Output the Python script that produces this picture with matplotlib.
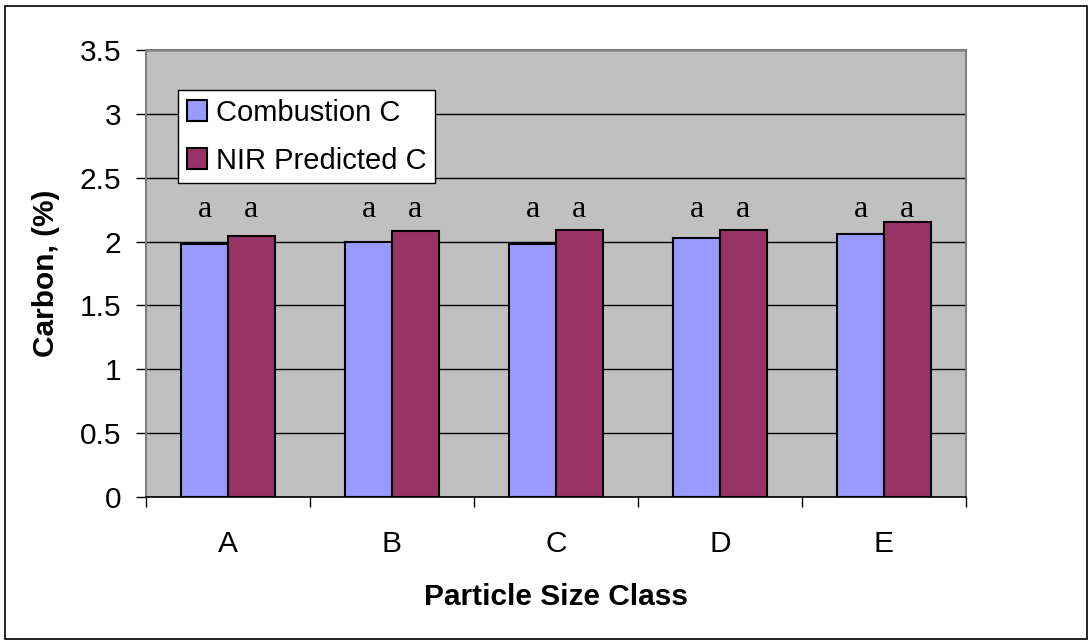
import matplotlib
matplotlib.use("Agg")
import matplotlib.pyplot as plt
from matplotlib.patches import Rectangle
import numpy as np

# ── Data ──
categories = ["A", "B", "C", "D", "E"]
combustion_c = [1.98, 2.00, 1.98, 2.03, 2.06]
nir_predicted_c = [2.04, 2.08, 2.09, 2.09, 2.15]
letters_comb = ["a", "a", "a", "a", "a"]
letters_nir = ["a", "a", "a", "a", "a"]
letter_y = 2.19
y_ticks = [0, 0.5, 1, 1.5, 2, 2.5, 3, 3.5]

plt.rcParams["font.family"] = ["Liberation Sans", "DejaVu Sans"]
FS = 21.5

fig = plt.figure(figsize=(10.89, 6.41), dpi=100)
fig.patches.append(Rectangle((5 / 1089, 2 / 641), 1082 / 1089, 633 / 641,
                             transform=fig.transFigure, fill=False,
                             edgecolor="black", linewidth=1.2))

ax = fig.add_axes([146 / 1089, 144 / 641, 820 / 1089, 447 / 641])
ax.set_facecolor("#C0C0C0")

x = np.arange(len(categories))
w = 1 / 3.5
ax.bar(x - w / 2, combustion_c, w, color="#9999FF", edgecolor="black",
       linewidth=1.5, label="Combustion C", zorder=3)
ax.bar(x + w / 2, nir_predicted_c, w, color="#993366", edgecolor="black",
       linewidth=1.5, label="NIR Predicted C", zorder=3)

for i in range(len(categories)):
    ax.text(x[i] - w / 2, letter_y, letters_comb[i], ha="center", va="baseline",
            fontsize=23, family=["Liberation Serif", "DejaVu Serif"], zorder=4)
    ax.text(x[i] + w / 2, letter_y, letters_nir[i], ha="center", va="baseline",
            fontsize=23, family=["Liberation Serif", "DejaVu Serif"], zorder=4)

ax.set_xlim(-0.5, len(categories) - 0.5)
ax.set_ylim(0, 3.5)
ax.set_yticks(y_ticks)
ax.set_yticklabels([f"{v:g}" for v in y_ticks], fontsize=FS)
ax.grid(True, axis="y", color="black", linewidth=1, zorder=1)

# category borders as major ticks, labels at centres as minor ticks
ax.set_xticks(np.arange(-0.5, len(categories), 1.0))
ax.set_xticklabels([])
ax.set_xticks(x, minor=True)
ax.set_xticklabels(categories, minor=True, fontsize=FS)
ax.tick_params(axis="x", which="major", length=7, width=1, color="black")
ax.tick_params(axis="x", which="minor", length=0, pad=24)
ax.tick_params(axis="y", length=7, width=1, color="black", pad=11)

for side in ["left", "right", "top"]:
    ax.spines[side].set_color("#808080")
    ax.spines[side].set_linewidth(1.5)
ax.spines["bottom"].set_color("black")
ax.spines["bottom"].set_linewidth(1.2)

ax.set_xlabel("Particle Size Class", fontsize=FS, fontweight="bold", labelpad=18)
ax.set_ylabel("Carbon, (%)", fontsize=FS, fontweight="bold", labelpad=14)

leg = ax.legend(loc="upper left", bbox_to_anchor=(0.039, 0.9105), fontsize=21,
                frameon=True, fancybox=False, edgecolor="black", framealpha=1,
                borderpad=0.3, labelspacing=0.68, handlelength=0.7,
                handleheight=0.7, handletextpad=0.3, borderaxespad=0)
leg.get_frame().set_linewidth(1)
leg.set_zorder(5)

fig.savefig("out.png", dpi=100)
